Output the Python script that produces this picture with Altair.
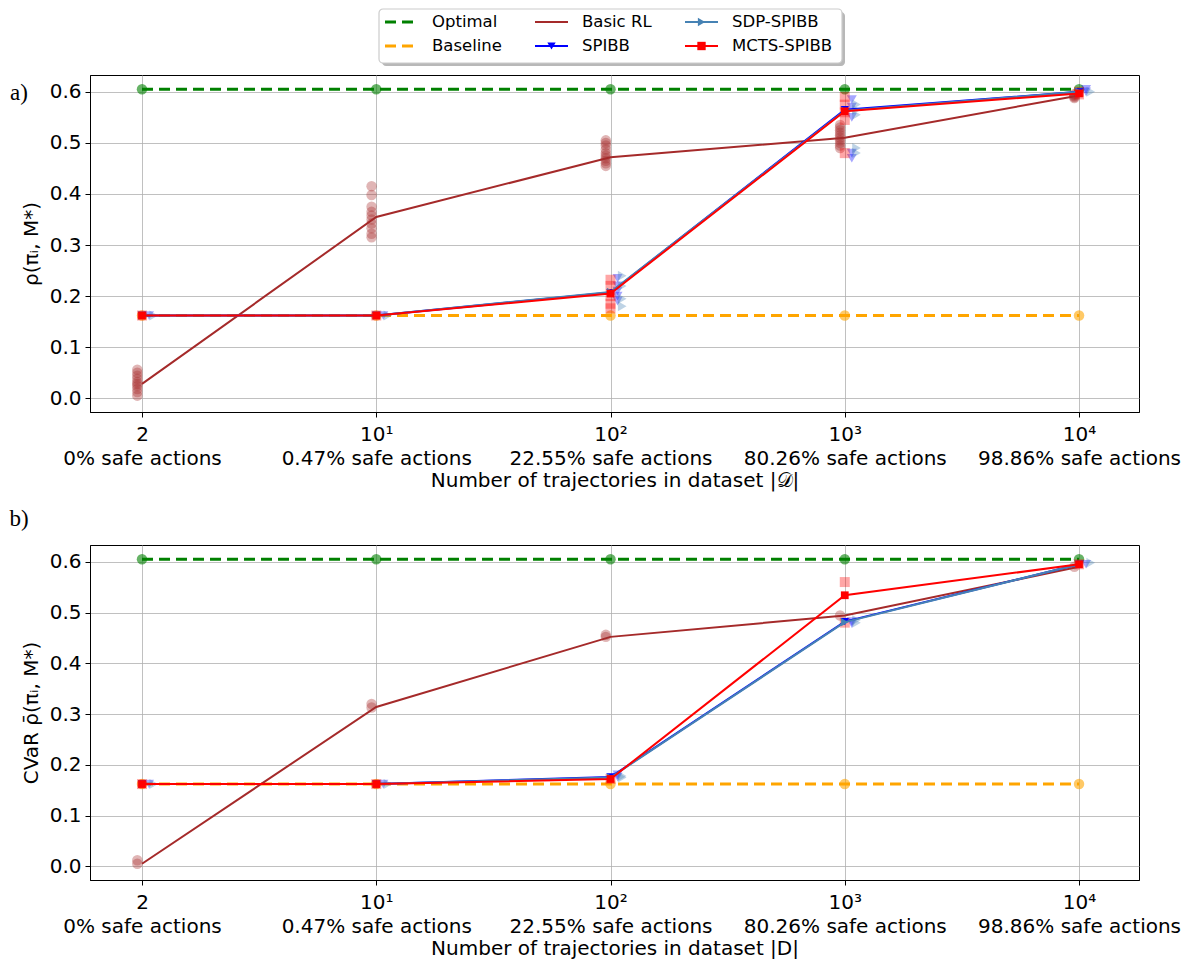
import altair as alt
import pandas as pd

# ---------------- data ----------------
X_TOP = ["2", "10¹", "10²", "10³", "10⁴"]
X_BOTTOM = ["0% safe actions", "0.47% safe actions", "22.55% safe actions",
            "80.26% safe actions", "98.86% safe actions"]
X_INDEX = [0, 1, 2, 3, 4]

OPTIMAL = 0.605
BASELINE = 0.162

# panel a) mean performance
A_RL_MEAN = [0.028, 0.355, 0.472, 0.510, 0.593]
A_SPIBB_MEAN = [0.162, 0.162, 0.207, 0.565, 0.600]
A_SDP_MEAN = [0.162, 0.162, 0.208, 0.563, 0.600]
A_MCTS_MEAN = [0.162, 0.162, 0.205, 0.562, 0.597]

# panel a) individual runs
A_RL_RUNS = [[0.005, 0.012, 0.018, 0.024, 0.028, 0.032, 0.038, 0.044, 0.050, 0.056],
             [0.315, 0.322, 0.333, 0.342, 0.350, 0.358, 0.365, 0.375, 0.398, 0.415],
             [0.455, 0.460, 0.465, 0.470, 0.475, 0.480, 0.487, 0.495, 0.500, 0.505],
             [0.490, 0.495, 0.500, 0.505, 0.510, 0.515, 0.520, 0.525, 0.530, 0.535],
             [0.588, 0.590, 0.592, 0.594, 0.596]]
A_SPIBB_RUNS = [[0.162], [0.162], [0.190, 0.200, 0.210, 0.220, 0.235],
                [0.470, 0.480, 0.550, 0.570, 0.585], [0.600, 0.605]]
A_SDP_RUNS = [[0.162], [0.162], [0.180, 0.195, 0.220, 0.240],
              [0.480, 0.490, 0.555, 0.565, 0.575], [0.600]]
A_MCTS_RUNS = [[0.162], [0.162], [0.176, 0.185, 0.200, 0.220, 0.232],
               [0.480, 0.545, 0.560, 0.575, 0.590], [0.595, 0.600]]

# panel b) CVaR
B_RL_MEAN = [0.005, 0.314, 0.452, 0.494, 0.590]
B_SPIBB_MEAN = [0.162, 0.162, 0.176, 0.482, 0.595]
B_SDP_MEAN = [0.162, 0.162, 0.175, 0.481, 0.595]
B_MCTS_MEAN = [0.162, 0.162, 0.172, 0.534, 0.595]

B_RL_RUNS = [[0.005, 0.012], [0.313, 0.320], [0.452, 0.456], [0.494], [0.590]]
B_SPIBB_RUNS = [[0.162], [0.162], [0.176, 0.180], [0.478, 0.482], [0.595]]
B_SDP_RUNS = [[0.162], [0.162], [0.175, 0.178], [0.480, 0.485], [0.598]]
B_MCTS_RUNS = [[0.162], [0.162], [0.172], [0.480, 0.560], [0.595]]

LEGEND_ORDER = ["Optimal", "Baseline", "Basic RL", "SPIBB", "SDP-SPIBB", "MCTS-SPIBB"]
LEGEND_COL = [0, 0, 1, 1, 2, 2]
LEGEND_ROW = [0, 1, 0, 1, 0, 1]

# ---------------- styles ----------------
COLORS = {"Optimal": "#008000", "Baseline": "#FFA500", "Basic RL": "#A52A2A",
          "SPIBB": "#0000FF", "SDP-SPIBB": "#4682B4", "MCTS-SPIBB": "#FF0000"}
SHAPES = {"Optimal": "circle", "Baseline": "circle", "Basic RL": "circle",
          "SPIBB": "triangle-down", "SDP-SPIBB": "triangle-right", "MCTS-SPIBB": "square"}
RUN_DX = {"Optimal": 0.0, "Baseline": 0.0, "Basic RL": -0.02,
          "SPIBB": 0.03, "SDP-SPIBB": 0.05, "MCTS-SPIBB": 0.0}
DASH = [11, 6]
FONT = "DejaVu Sans"
FS = 20
W = 1049
XDOM = [-0.222, 4.256]
YDOM = [-0.027, 0.633]

labels_js = "[" + ",".join("['%s','%s']" % (t, b) for t, b in zip(X_TOP, X_BOTTOM)) + "]"
LABEL_EXPR = labels_js + "[round(datum.value)]"


def runs_df(runs, name):
    rows = []
    for xi, vals in zip(X_INDEX, runs):
        for v in vals:
            rows.append({"x": xi + RUN_DX[name], "y": v})
    return pd.DataFrame(rows)


def xenc(title):
    ax = alt.Axis(values=X_INDEX, labelExpr=LABEL_EXPR, title=title, grid=True,
                  labelFontSize=FS, titleFontSize=FS, labelFont=FONT, titleFont=FONT,
                  titleFontWeight="normal", labelLineHeight=24, labelPadding=7,
                  titlePadding=2, tickSize=5, labelFlush=False, labelOverlap=False,
                  labelLimit=0, labelColor="black", titleColor="black",
                  domainColor="black", tickColor="black", gridColor="#b0b0b0",
                  gridWidth=0.8)
    return alt.X("x:Q", scale=alt.Scale(domain=XDOM, nice=False, zero=False), axis=ax)


def yenc(title):
    ax = alt.Axis(values=[0, 0.1, 0.2, 0.3, 0.4, 0.5, 0.6], format=".1f", title=title,
                  grid=True, labelFontSize=FS, titleFontSize=FS, labelFont=FONT,
                  titleFont=FONT, titleFontWeight="normal", labelPadding=4,
                  titlePadding=8, tickSize=5, labelColor="black", titleColor="black",
                  domainColor="black", tickColor="black", gridColor="#b0b0b0",
                  gridWidth=0.8, labelFlush=False)
    return alt.Y("y:Q", scale=alt.Scale(domain=YDOM, nice=False, zero=False), axis=ax)


def panel(means, runs, xtitle, ytitle, tag, tag_y, height):
    X = xenc(xtitle)
    Y = yenc(ytitle)
    layers = []
    for name in ["Optimal", "Baseline"]:
        val = OPTIMAL if name == "Optimal" else BASELINE
        df = pd.DataFrame({"x": X_INDEX, "y": [val] * 5})
        pts = alt.Chart(df).mark_point(filled=True, shape="circle", size=110,
                                       color=COLORS[name], opacity=0.6,
                                       strokeWidth=0).encode(x=X, y=Y)
        line = alt.Chart(df).mark_line(color=COLORS[name], strokeWidth=3,
                                       strokeDash=DASH).encode(x=X, y=Y)
        layers += [pts, line]
    for name in ["Basic RL", "SPIBB", "SDP-SPIBB", "MCTS-SPIBB"]:
        rdf = runs_df(runs[name], name)
        pts = alt.Chart(rdf).mark_point(filled=True, shape=SHAPES[name],
                                        size=110 if name == "Basic RL" else 100,
                                        color=COLORS[name], opacity=0.35,
                                        strokeWidth=0).encode(x=X, y=Y)
        layers.append(pts)
    for name in ["Basic RL", "SPIBB", "SDP-SPIBB", "MCTS-SPIBB"]:
        mdf = pd.DataFrame({"x": X_INDEX, "y": means[name]})
        line = alt.Chart(mdf).mark_line(color=COLORS[name], strokeWidth=2).encode(x=X, y=Y)
        layers.append(line)
        if name != "Basic RL":
            mk = alt.Chart(mdf).mark_point(filled=True, shape=SHAPES[name],
                                           size=70 if name != "MCTS-SPIBB" else 60,
                                           color=COLORS[name], opacity=1,
                                           strokeWidth=0).encode(x=X, y=Y)
            layers.append(mk)
    tag_df = pd.DataFrame({"t": [tag]})
    tag_layer = alt.Chart(tag_df).mark_text(font="Liberation Serif", fontSize=23,
                                            align="center", baseline="middle",
                                            color="black").encode(
        text="t:N", x=alt.value(-71), y=alt.value(tag_y))
    layers.append(tag_layer)
    return alt.layer(*layers).properties(
        width=W, height=height,
        view=alt.ViewBackground(stroke="black", strokeWidth=1, fill="white"))


pa = panel({"Basic RL": A_RL_MEAN, "SPIBB": A_SPIBB_MEAN, "SDP-SPIBB": A_SDP_MEAN,
            "MCTS-SPIBB": A_MCTS_MEAN},
           {"Basic RL": A_RL_RUNS, "SPIBB": A_SPIBB_RUNS, "SDP-SPIBB": A_SDP_RUNS,
            "MCTS-SPIBB": A_MCTS_RUNS},
           "Number of trajectories in dataset |𝒟|", "ρ(πᵢ, M*)", "a)", 18, 337)
pb = panel({"Basic RL": B_RL_MEAN, "SPIBB": B_SPIBB_MEAN, "SDP-SPIBB": B_SDP_MEAN,
            "MCTS-SPIBB": B_MCTS_MEAN},
           {"Basic RL": B_RL_RUNS, "SPIBB": B_SPIBB_RUNS, "SDP-SPIBB": B_SDP_RUNS,
            "MCTS-SPIBB": B_MCTS_RUNS},
           "Number of trajectories in dataset |D|", "CVaR ρ̄(πᵢ, M*)", "b)", -26, 335)

# ---------------- legend (drawn as a small chart above panel a) ----------------
LH = 54
BOX_L, BOX_R = 289, 752          # legend box, in pixels from the plot's left edge
COL_STEP = 150
leg = pd.DataFrame({"label": LEGEND_ORDER, "col": LEGEND_COL, "row": LEGEND_ROW})
leg["x0"] = BOX_L + 6 + leg["col"] * COL_STEP
leg["x1"] = leg["x0"] + 33
leg["xm"] = leg["x0"] + 16.5
leg["xt"] = BOX_L + 53 + leg["col"] * COL_STEP
leg["y"] = 13 + leg["row"] * 24
box = pd.DataFrame({"x": [BOX_L], "x2": [BOX_R], "y": [0], "y2": [LH]})
shadow = pd.DataFrame({"x": [BOX_L + 3], "x2": [BOX_R + 3], "y": [3], "y2": [LH + 3]})
lx = alt.Scale(domain=[0, W], nice=False, zero=False)
ly = alt.Scale(domain=[0, LH], nice=False, zero=False, reverse=True)
leg_layers = [
    alt.Chart(shadow).mark_rect(color="#b8b8b8", cornerRadius=4).encode(
        x=alt.X("x:Q", scale=lx, axis=None), x2="x2:Q",
        y=alt.Y("y:Q", scale=ly, axis=None), y2="y2:Q"),
    alt.Chart(box).mark_rect(fill="white", stroke="#cccccc", strokeWidth=1.2,
                             cornerRadius=4).encode(
        x=alt.X("x:Q", scale=lx, axis=None), x2="x2:Q",
        y=alt.Y("y:Q", scale=ly, axis=None), y2="y2:Q"),
]
for name in LEGEND_ORDER:
    sub = leg[leg["label"] == name]
    if name in ("Optimal", "Baseline"):
        m = alt.Chart(sub).mark_rule(color=COLORS[name], strokeWidth=3, strokeDash=DASH)
    else:
        m = alt.Chart(sub).mark_rule(color=COLORS[name], strokeWidth=2)
    leg_layers.append(m.encode(x=alt.X("x0:Q", scale=lx, axis=None), x2="x1:Q",
                               y=alt.Y("y:Q", scale=ly, axis=None)))
    if name in ("SPIBB", "SDP-SPIBB", "MCTS-SPIBB"):
        leg_layers.append(alt.Chart(sub).mark_point(filled=True, shape=SHAPES[name],
                                                    size=70, color=COLORS[name],
                                                    opacity=1, strokeWidth=0).encode(
            x=alt.X("xm:Q", scale=lx, axis=None), y=alt.Y("y:Q", scale=ly, axis=None)))
leg_layers.append(alt.Chart(leg).mark_text(align="left", baseline="middle", font=FONT,
                                           fontSize=16.5, color="black").encode(
    x=alt.X("xt:Q", scale=lx, axis=None), y=alt.Y("y:Q", scale=ly, axis=None),
    text="label:N"))
legend = alt.layer(*leg_layers).properties(
    width=W, height=LH,
    view=alt.ViewBackground(strokeWidth=0, strokeOpacity=0, fillOpacity=0))

panels = alt.vconcat(pa, pb, spacing=16).resolve_scale(x="independent", y="independent")
chart = alt.vconcat(legend, panels, spacing=8).resolve_scale(
    x="independent", y="independent").properties(padding=0).configure(background="white")

chart.save("out.html", embed_options={"renderer": "svg", "actions": False})
